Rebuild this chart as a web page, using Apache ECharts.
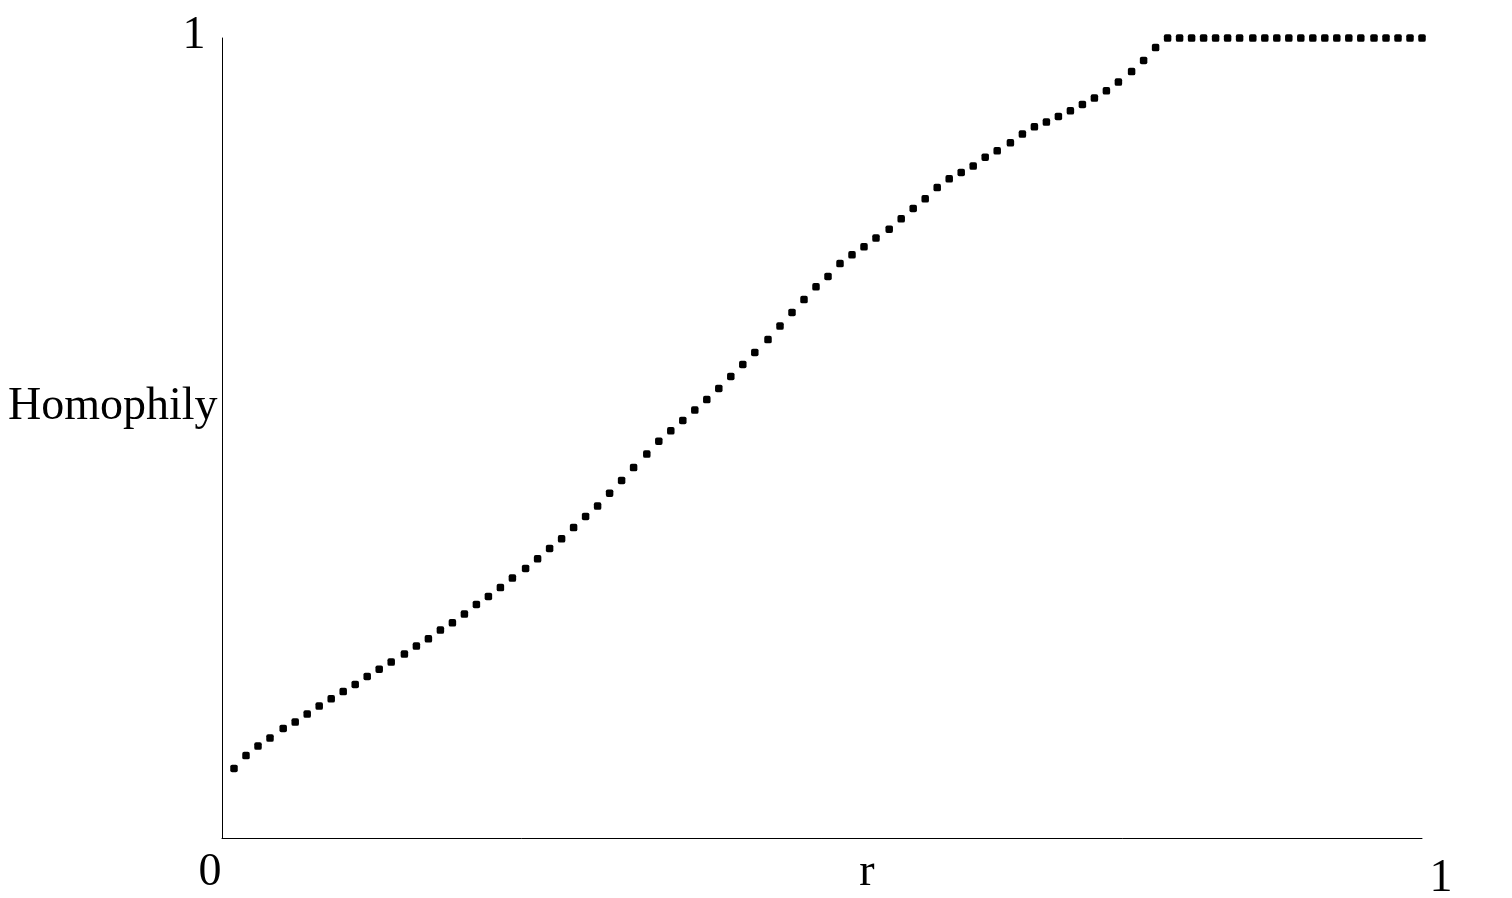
<!DOCTYPE html>
<html>
<head>
<meta charset="utf-8">
<title>Homophily vs r</title>
<script src="https://cdn.jsdelivr.net/npm/echarts@6/dist/echarts.min.js"></script>
<style>
  html, body { margin: 0; padding: 0; background: #fff; }
  #chart { width: 1512px; height: 898px; }
</style>
</head>
<body>
<div id="chart"></div>
<script>
// r values (evenly spaced)
const rValues = [
  0.010, 0.020, 0.030, 0.040, 0.051, 0.061, 0.071, 0.081, 0.091, 0.101,
  0.111, 0.121, 0.131, 0.141, 0.152, 0.162, 0.172, 0.182, 0.192, 0.202,
  0.212, 0.222, 0.232, 0.242, 0.253, 0.263, 0.273, 0.283, 0.293, 0.303,
  0.313, 0.323, 0.333, 0.343, 0.354, 0.364, 0.374, 0.384, 0.394, 0.404,
  0.414, 0.424, 0.434, 0.444, 0.455, 0.465, 0.475, 0.485, 0.495, 0.505,
  0.515, 0.525, 0.535, 0.545, 0.556, 0.566, 0.576, 0.586, 0.596, 0.606,
  0.616, 0.626, 0.636, 0.646, 0.657, 0.667, 0.677, 0.687, 0.697, 0.707,
  0.717, 0.727, 0.737, 0.747, 0.758, 0.768, 0.778, 0.788, 0.798, 0.808,
  0.818, 0.828, 0.838, 0.848, 0.859, 0.869, 0.879, 0.889, 0.899, 0.909,
  0.919, 0.929, 0.939, 0.949, 0.960, 0.970, 0.980, 0.990, 1.000,
];

// homophily at each r
const homophily = [
  0.087, 0.103, 0.115, 0.125, 0.137, 0.145, 0.155, 0.165, 0.174, 0.183,
  0.192, 0.202, 0.211, 0.220, 0.230, 0.240, 0.249, 0.260, 0.269, 0.280,
  0.292, 0.302, 0.313, 0.325, 0.337, 0.349, 0.362, 0.374, 0.388, 0.402,
  0.415, 0.431, 0.447, 0.463, 0.480, 0.496, 0.509, 0.522, 0.535, 0.548,
  0.562, 0.577, 0.592, 0.607, 0.623, 0.640, 0.657, 0.673, 0.689, 0.702,
  0.718, 0.729, 0.739, 0.750, 0.761, 0.774, 0.787, 0.799, 0.813, 0.824,
  0.832, 0.840, 0.851, 0.859, 0.869, 0.880, 0.889, 0.895, 0.902, 0.909,
  0.917, 0.925, 0.934, 0.945, 0.958, 0.972, 0.988, 1.000, 1.000, 1.000,
  1.000, 1.000, 1.000, 1.000, 1.000, 1.000, 1.000, 1.000, 1.000, 1.000,
  1.000, 1.000, 1.000, 1.000, 1.000, 1.000, 1.000, 1.000, 1.000,
];

const yTopLabel = "1";
const xStartLabel = "0";
const xEndLabel = "1";
const xName = "r";
const yName = "Homophily";

const FONT = "'Liberation Serif', 'Times New Roman', serif";
const textStyle = (text, x, y, align) => ({
  type: "text",
  x: x,
  y: y,
  style: {
    text: text,
    font: "46px " + FONT,
    fill: "#000",
    textAlign: align,
    textVerticalAlign: "bottom",
  },
});

const chart = echarts.init(document.getElementById("chart"), null, { renderer: "canvas" });

chart.setOption({
  animation: false,
  backgroundColor: "#fff",
  grid: { left: 222, top: 38, width: 1200, height: 800 },
  xAxis: {
    type: "value",
    min: 0,
    max: 1,
    axisLine: { show: true, onZero: false, lineStyle: { color: "#000", width: 1 } },
    axisTick: { show: false },
    axisLabel: { show: false },
    splitLine: { show: false },
  },
  yAxis: {
    type: "value",
    min: 0,
    max: 1,
    axisLine: { show: true, onZero: false, lineStyle: { color: "#000", width: 1 } },
    axisTick: { show: false },
    axisLabel: { show: false },
    splitLine: { show: false },
  },
  series: [
    {
      type: "scatter",
      data: rValues.map((r, i) => [r, homophily[i]]),
      symbol: "roundRect",
      symbolSize: 7.5,
      itemStyle: { color: "#000", opacity: 1 },
    },
  ],
  graphic: [
    textStyle(yTopLabel, 194, 59, "center"),
    textStyle(yName, 8, 430, "left"),
    textStyle(xStartLabel, 210, 896, "center"),
    textStyle(xName, 867, 896, "center"),
    textStyle(xEndLabel, 1441, 902, "center"),
  ],
});

window.addEventListener("resize", () => chart && chart.resize());
</script>
</body>
</html>
